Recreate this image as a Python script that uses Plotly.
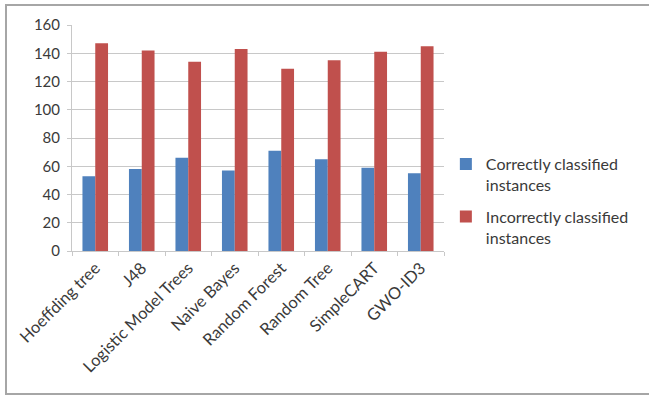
import plotly.graph_objects as go

classifiers = ["Hoeffding tree", "J48", "Logistic Model Trees", "Naive Bayes",
               "Random Forest", "Random Tree", "SimpleCART", "GWO-ID3"]
correct = [53, 58, 66, 57, 71, 65, 59, 55]
incorrect = [147, 142, 134, 143, 129, 135, 141, 145]
y_ticks = [0, 20, 40, 60, 80, 100, 120, 140, 160]

FONT = "Lato, Open Sans, sans-serif"
TEXT = "#3a3a3a"

fig = go.Figure()
fig.add_trace(go.Bar(x=classifiers, y=correct, name="Correctly classified<br>instances",
                     legendgroup="correct",
                     marker=dict(color="#4F81BD", line=dict(width=0))))
fig.add_trace(go.Bar(x=classifiers, y=incorrect, name="Incorrectly classified<br>instances",
                     legendgroup="incorrect",
                     marker=dict(color="#C0504D", line=dict(width=0))))

fig.update_layout(
    width=649, height=396,
    margin=dict(l=72, r=205, t=25, b=145),
    paper_bgcolor="white", plot_bgcolor="white",
    barmode="group", bargap=0.45, bargroupgap=0,
    font=dict(family=FONT, size=15, color=TEXT),
    showlegend=True,
    legend=dict(x=1.005, y=0.46, xanchor="left", yanchor="top", valign="top",
                font=dict(size=16, color=TEXT), tracegroupgap=8,
                bgcolor="rgba(0,0,0,0)"),
    shapes=[dict(type="rect", xref="paper", yref="paper",
                 x0=-66 / 372, x1=1.7, y0=-143 / 226, y1=1 + 20 / 226,
                 line=dict(color="#a6a6a6", width=2), layer="below")],
)
fig.update_yaxes(range=[0, 160], tickvals=y_ticks, showgrid=True, gridcolor="#c8c8c8",
                 gridwidth=1, showline=True, linecolor="#c8c8c8", ticks="outside",
                 ticklen=4, tickcolor="#c8c8c8", zeroline=False, ticklabelstandoff=4,
                 tickfont=dict(size=15, color=TEXT))
fig.update_xaxes(showline=True, linecolor="#c8c8c8", ticks="outside", ticklen=4,
                 tickcolor="#c8c8c8", tickson="boundaries", tickangle=-45,
                 tickfont=dict(size=16.5, color=TEXT))

fig.write_html("out.html")
